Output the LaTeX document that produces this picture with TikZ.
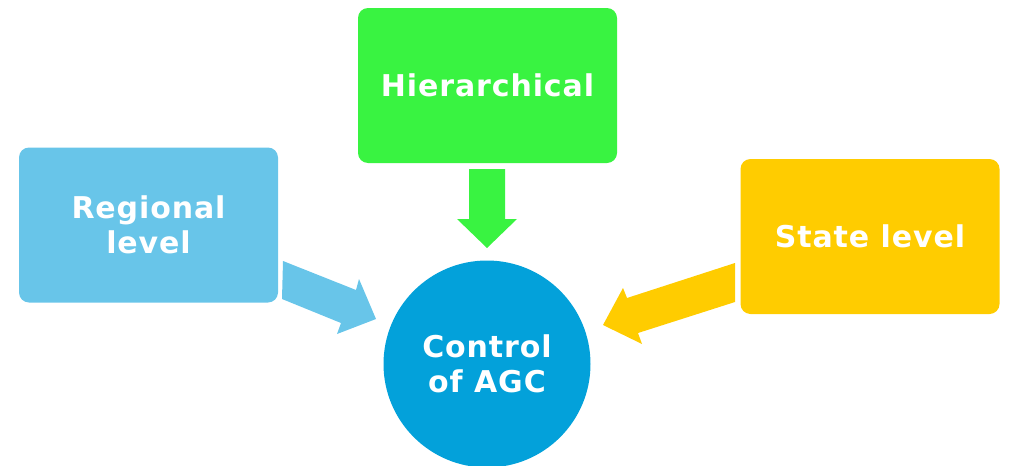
\documentclass[tikz,border=0pt]{standalone}
\usepackage{fontspec}
\setmainfont{DejaVu Sans}[LetterSpace=3]
\definecolor{cgreen}{HTML}{39F341}
\definecolor{cblue}{HTML}{68C5E9}
\definecolor{cyellow}{HTML}{FFCC00}
\definecolor{ccircle}{HTML}{03A1DA}
\tikzset{
  box/.style={rectangle, rounded corners=10pt, minimum width=259pt, minimum height=155pt, inner sep=0pt, align=center, text=white, font=\fontsize{30}{35}\selectfont\bfseries},
  hub/.style={circle, minimum size=207pt, inner sep=0pt, align=center, text=white, font=\fontsize{30}{35}\selectfont\bfseries},
  blockarrow/.style={draw=none}
}
\begin{document}
\begin{tikzpicture}[x=1pt,y=-1pt]
\useasboundingbox (0,0) rectangle (1010,466);
\node[box, fill=cgreen] (hier) at (487.5,85.5) {Hierarchical};
\node[box, fill=cblue] (reg) at (148.5,225) {Regional\\level};
\node[box, fill=cyellow] (state) at (870,236.5) {State level};
\node[hub, fill=ccircle] (agc) at (487,364) {Control\\of AGC};
% block arrows
\fill[cgreen, blockarrow] (469,169) -- (505,169) -- (505,219) -- (517,219) -- (487,248) -- (457,219) -- (469,219) -- cycle;
\fill[cblue, blockarrow] (283,261) -- (356,290) -- (359,279) -- (376,319) -- (337,334) -- (341,323) -- (282,299) -- cycle;
\fill[cyellow, blockarrow] (735,263) -- (627,298) -- (623,288) -- (603,325) -- (642,344) -- (638,333) -- (735,302) -- cycle;
\end{tikzpicture}
\end{document}
